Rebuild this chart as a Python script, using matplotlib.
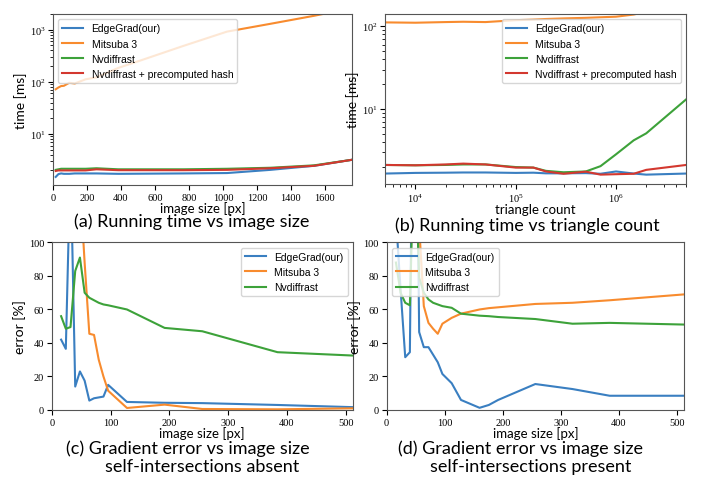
import numpy as np
import matplotlib
matplotlib.use("Agg")
import matplotlib.pyplot as plt

plt.rcParams["font.family"] = ["Liberation Serif", "DejaVu Serif"]
plt.rcParams["mathtext.fontset"] = "stix"

names = ["EdgeGrad(our)", "Mitsuba 3", "Nvdiffrast", "Nvdiffrast + precomputed hash"]
colors = ["#3a7fc1", "#f88b2e", "#3da23a", "#d3382f"]

# (a) running time vs image size
a_x = [16, 32, 48, 64, 96, 128, 192, 256, 384, 512, 768, 1024, 1280, 1536, 1760]
a_edge = [1.5, 1.7, 1.75, 1.72, 1.72, 1.75, 1.75, 1.75, 1.72, 1.73, 1.75, 1.78, 2.05, 2.45, 3.2]
a_mitsuba = [72, 78, 83, 84, 96, 93, 112, 122, 185, 255, 490, 920, 1300, 1850, 2600]
a_nvd = [2.05, 2.1, 2.15, 2.15, 2.15, 2.15, 2.15, 2.2, 2.1, 2.1, 2.1, 2.15, 2.25, 2.5, 3.2]
a_nvd_hash = [1.95, 2.0, 2.0, 2.0, 2.0, 2.0, 2.0, 2.1, 2.02, 2.02, 2.02, 2.05, 2.2, 2.45, 3.2]

# (b) running time vs triangle count
b_x = [5e3, 1e4, 2e4, 3e4, 5e4, 1e5, 1.5e5, 2e5, 3e5, 5e5, 7e5, 1e6, 1.5e6, 2e6, 5e6]
b_edge = [1.67, 1.7, 1.71, 1.72, 1.72, 1.7, 1.71, 1.68, 1.68, 1.69, 1.66, 1.77, 1.67, 1.62, 1.67]
b_mitsuba = [111, 110, 112, 113, 112, 118, 120, 122, 124, 126, 128, 130, 138, 150, 170]
b_nvd = [2.12, 2.1, 2.12, 2.15, 2.15, 2.0, 1.97, 1.8, 1.73, 1.77, 2.05, 2.85, 4.2, 5.1, 13.1]
b_nvd_hash = [2.12, 2.1, 2.15, 2.2, 2.15, 1.97, 1.97, 1.77, 1.66, 1.76, 1.62, 1.64, 1.66, 1.85, 2.12]

# (c) gradient error, self-intersections absent
c_x = [16, 24, 32, 40, 48, 56, 64, 72, 80, 88, 96, 128, 192, 256, 384, 512]
c_edge = [42, 36.5, 150, 14, 23, 17.5, 5.6, 7, 7.5, 8, 15, 4.8, 4.3, 4.1, 3, 1.7]
c_mitsuba = [300, 250, 200, 160, 136, 88, 45.5, 44.8, 30, 20, 11.5, 1.2, 3.2, 0.6, 0.4, 1.0]
c_nvd = [56, 48.5, 49.5, 83, 91, 70, 67, 65.5, 64, 63, 62.5, 60, 49, 47, 34.5, 32.5]

# (d) gradient error, self-intersections present
d_x = [16, 24, 32, 40, 48, 56, 64, 72, 80, 88, 96, 112, 128, 160, 176, 192, 256, 320, 384, 512]
d_edge = [115, 72, 31.5, 34.5, 300, 46.5, 37.5, 37.5, 33, 28.5, 21.5, 16, 6, 1.3, 3, 6, 15.5, 12.5, 8.5, 8.5]
d_mitsuba = [400, 350, 300, 250, 200, 110, 62, 52, 48.5, 45.5, 51.5, 55, 57.5, 60, 60.8, 61.3, 63.3, 64, 65.5, 69]
d_nvd = [88, 70, 64, 62.5, 162, 79, 70, 66, 64, 63, 62, 61, 57.5, 56.3, 56, 55.5, 54.3, 51.5, 52, 51]

fig = plt.figure(figsize=(7.2, 4.85), dpi=100)
ax_a = fig.add_axes([0.0736, 0.6165, 0.4154, 0.3525])
ax_b = fig.add_axes([0.535, 0.6186, 0.418, 0.3504])
ax_c = fig.add_axes([0.0718, 0.1526, 0.4182, 0.3454])
ax_d = fig.add_axes([0.537, 0.1526, 0.413, 0.3454])

xlab_font = dict(family="Lato", fontsize=9.5)
ylab_font = dict(family="Lato", fontsize=10)
leg_font = {"family": "Liberation Sans", "size": 7.5}

for ys, nm, col in zip([a_edge, a_mitsuba, a_nvd, a_nvd_hash], names, colors):
    ax_a.plot(a_x, ys, color=col, lw=1.5, label=nm)
ax_a.set_yscale("log")
ax_a.set_xlim(0, 1760)
ax_a.set_ylim(1.05, 2000)
ax_a.set_xlabel("image size [px]", labelpad=-0.5, **xlab_font)
ax_a.set_ylabel("time [ms]", labelpad=2, **ylab_font)
ax_a.legend(loc="upper left", prop=leg_font)

for ys, nm, col in zip([b_edge, b_mitsuba, b_nvd, b_nvd_hash], names, colors):
    ax_b.plot(b_x, ys, color=col, lw=1.5, label=nm)
ax_b.set_xscale("log")
ax_b.set_yscale("log")
ax_b.set_xlim(5e3, 5e6)
ax_b.set_ylim(1.25, 140)
ax_b.set_xlabel("triangle count", labelpad=-0.5, **xlab_font)
ax_b.set_ylabel("time [ms]", labelpad=2, **ylab_font)
ax_b.legend(loc="upper right", prop=leg_font)

for ys, nm, col in zip([c_edge, c_mitsuba, c_nvd], names, colors):
    ax_c.plot(c_x, ys, color=col, lw=1.5, label=nm)
ax_c.set_xlim(0, 512)
ax_c.set_ylim(0, 100)
ax_c.set_xlabel("image size [px]", labelpad=-0.5, **xlab_font)
ax_c.set_ylabel("error [%]", labelpad=2, **ylab_font)
ax_c.legend(loc="upper right", prop=leg_font)

for ys, nm, col in zip([d_edge, d_mitsuba, d_nvd], names, colors):
    ax_d.plot(d_x, ys, color=col, lw=1.5, label=nm)
ax_d.set_xlim(0, 512)
ax_d.set_ylim(0, 100)
ax_d.set_xlabel("image size [px]", labelpad=-0.5, **xlab_font)
ax_d.set_ylabel("error [%]", labelpad=2, **ylab_font)
ax_d.legend(loc="upper left", prop=leg_font)

for ax in [ax_a, ax_b, ax_c, ax_d]:
    ax.tick_params(labelsize=7.5, pad=2)
    for s in ax.spines.values():
        s.set_color("#555555")

title_font = dict(family="Lato", fontsize=13, ha="center", va="center")
fig.text(192 / 720, 1 - 222 / 485, "(a) Running time vs image size", **title_font)
fig.text(527 / 720, 1 - 225.5 / 485, "(b) Running time vs triangle count", **title_font)
fig.text(188 / 720, 1 - 449 / 485, "(c) Gradient error vs image size", **title_font)
fig.text(202 / 720, 1 - 467 / 485, "self-intersections absent", **title_font)
fig.text(521 / 720, 1 - 449 / 485, "(d) Gradient error vs image size", **title_font)
fig.text(531 / 720, 1 - 467 / 485, "self-intersections present", **title_font)

fig.savefig("out.png", dpi=100)
